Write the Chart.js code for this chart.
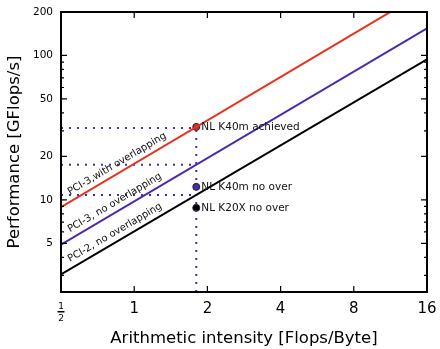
<!DOCTYPE html>
<html>
<head>
<meta charset="utf-8">
<script src="https://cdn.jsdelivr.net/npm/chart.js@4/dist/chart.umd.min.js"></script>
<style>
  html, body { margin: 0; padding: 0; background: #fff; }
  #wrap { width: 440px; height: 349px; }
</style>
</head>
<body>
<div id="wrap"><canvas id="roofline"></canvas></div>
<script>
// roofline limits (endpoints at x = 1/2 and x = 16)
var lineX = [0.5, 16];
var pci3Overlap = [8.9, 283];
var pci3NoOverlap = [4.9, 154];
var pci2NoOverlap = [3.05, 94];
var lineNames = ["PCI-3,with overlapping", "PCI-3, no overlapping", "PCI-2, no overlapping"];
var lineColors = ["#e8321c", "#4b28b0", "#000000"];
var labelStartX = 0.56;

// measured kernels
var pointX = [1.8, 1.8, 1.8];
var pointY = [32, 12.3, 8.8];
var pointNames = ["NL K40m achieved", "NL K40m no over", "NL K20X no over"];
var pointFill = ["#d9301c", "#4b28b0", "#000000"];

// dotted guide levels
var guideX = 1.8;
var guideY = [31.4, 17.5, 10.8];

// axes
var xMin = 0.5, xMax = 16;
var yMin = 2.3, yMax = 200;
var xTicks = [0.5, 1, 2, 4, 8, 16];
var yTicks = [5, 10, 20, 50, 100, 200];
var yMinorTicks = [3, 4, 6, 7, 8, 9, 30, 40, 60, 70, 80, 90];

var FONT = "'DejaVu Sans', sans-serif";
var dotted = "#4b2ab8";

function pts(xs, ys) {
  return xs.map(function(x, i) { return {x: x, y: ys[i]}; });
}

var datasets = [];
[pci3Overlap, pci3NoOverlap, pci2NoOverlap].forEach(function(ys, i) {
  datasets.push({
    label: lineNames[i], data: pts(lineX, ys), borderColor: lineColors[i],
    borderWidth: 2, pointRadius: 0, showLine: true, roofline: true
  });
});
datasets.push({
  data: [{x: guideX, y: yMin}, {x: guideX, y: guideY[0]}],
  borderColor: dotted, borderWidth: 2, borderDash: [2, 6], pointRadius: 0, showLine: true
});
guideY.forEach(function(g) {
  datasets.push({
    data: [{x: xMin, y: g}, {x: guideX, y: g}],
    borderColor: dotted, borderWidth: 2, borderDash: [2, 6], pointRadius: 0, showLine: true
  });
});
datasets.push({
  data: pts(pointX, pointY), showLine: false, pointRadius: 3.5,
  pointBackgroundColor: pointFill, pointBorderColor: "#222", pointBorderWidth: 1
});

var decor = {
  id: "decor",
  afterDatasetsDraw: function(chart) {
    var c = chart.ctx, a = chart.chartArea;
    var xs = chart.scales.x, ys = chart.scales.y;
    c.save();
    // labels along the roofline lines
    c.font = "10px " + FONT;
    c.fillStyle = "#111";
    c.textBaseline = "alphabetic";
    c.textAlign = "left";
    chart.data.datasets.forEach(function(ds, i) {
      if (!ds.roofline) return;
      var m = chart.getDatasetMeta(i).data;
      var ang = Math.atan2(m[1].y - m[0].y, m[1].x - m[0].x);
      var px = xs.getPixelForValue(labelStartX);
      var py = m[0].y + (px - m[0].x) * Math.tan(ang);
      c.save();
      c.translate(px, py);
      c.rotate(ang);
      c.fillText(ds.label, 0, -6);
      c.restore();
    });
    // kernel labels
    c.font = "10.5px " + FONT;
    c.textBaseline = "middle";
    pointNames.forEach(function(n, i) {
      c.fillText(n, xs.getPixelForValue(pointX[i]) + 5, ys.getPixelForValue(pointY[i]) + 0.5);
    });
    // ticks inward on all four sides
    c.strokeStyle = "#000";
    c.lineWidth = 1.2;
    c.beginPath();
    xTicks.forEach(function(v) {
      var x = xs.getPixelForValue(v);
      c.moveTo(x, a.bottom); c.lineTo(x, a.bottom - 6);
      c.moveTo(x, a.top); c.lineTo(x, a.top + 6);
    });
    yTicks.forEach(function(v) {
      var y = ys.getPixelForValue(v);
      c.moveTo(a.left, y); c.lineTo(a.left + 6, y);
      c.moveTo(a.right, y); c.lineTo(a.right - 6, y);
    });
    yMinorTicks.forEach(function(v) {
      var y = ys.getPixelForValue(v);
      c.moveTo(a.left, y); c.lineTo(a.left + 3, y);
      c.moveTo(a.right, y); c.lineTo(a.right - 3, y);
    });
    c.stroke();
    // frame
    c.lineWidth = 2;
    c.strokeRect(a.left, a.top, a.right - a.left, a.bottom - a.top);
    // 1/2 tick label as a stacked fraction
    var fx = xs.getPixelForValue(0.5);
    c.font = "9px " + FONT;
    c.textAlign = "center";
    c.textBaseline = "alphabetic";
    c.fillStyle = "#000";
    c.fillText("1", fx, a.bottom + 17);
    c.fillText("2", fx, a.bottom + 29);
    c.fillRect(fx - 3.5, a.bottom + 19, 7, 1.5);
    c.restore();
  }
};

new Chart(document.getElementById("roofline"), {
  type: "scatter",
  data: {datasets: datasets},
  options: {
    responsive: true,
    maintainAspectRatio: false,
    animation: false,
    layout: {padding: {top: 12, right: 13, left: 0, bottom: 0}},
    plugins: {legend: {display: false}, tooltip: {enabled: false}},
    scales: {
      x: {
        type: "logarithmic", min: xMin, max: xMax,
        afterBuildTicks: function(s) { s.ticks = xTicks.map(function(v) { return {value: v}; }); },
        afterFit: function(s) { s.height = 57; s.paddingLeft = 0; s.paddingRight = 0; },
        grid: {display: false, drawTicks: false}, border: {display: false},
        ticks: {
          color: "#000", padding: 8, font: {family: FONT, size: 15}, maxRotation: 0, autoSkip: false,
          callback: function(v) { return v === 0.5 ? "" : String(v); }
        },
        title: {display: true, text: "Arithmetic intensity [Flops/Byte]", color: "#000",
          font: {family: FONT, size: 16.5}, padding: {top: 0, bottom: 0}}
      },
      y: {
        type: "logarithmic", min: yMin, max: yMax,
        afterBuildTicks: function(s) { s.ticks = yTicks.map(function(v) { return {value: v}; }); },
        afterFit: function(s) { s.width = 61; s.paddingTop = 0; s.paddingBottom = 0; },
        grid: {display: false, drawTicks: false}, border: {display: false},
        ticks: {
          color: "#000", padding: 8, font: {family: FONT, size: 10.5}, autoSkip: false,
          callback: function(v) { return String(v); }
        },
        title: {display: true, text: "Performance [GFlops/s]", color: "#000",
          font: {family: FONT, size: 16.5}, padding: {top: 5, bottom: 0}}
      }
    }
  },
  plugins: [decor]
});
</script>
</body>
</html>
